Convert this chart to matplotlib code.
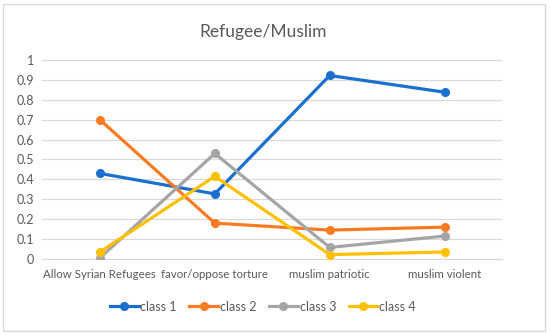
import matplotlib.pyplot as plt
from matplotlib.patches import Rectangle

categories = ["Allow Syrian Refugees", "favor/oppose torture", "muslim patriotic", "muslim violent"]
class1 = [0.43, 0.327, 0.922, 0.838]
class2 = [0.70, 0.18, 0.145, 0.16]
class3 = [0.005, 0.53, 0.058, 0.115]
class4 = [0.035, 0.415, 0.022, 0.035]
series_names = ["class 1", "class 2", "class 3", "class 4"]
colors = ["#1a6fcf", "#fb7b22", "#a5a5a5", "#ffc000"]
yticks = [0, 0.1, 0.2, 0.3, 0.4, 0.5, 0.6, 0.7, 0.8, 0.9, 1]
ytick_labels = ["0", "0.1", "0.2", "0.3", "0.4", "0.5", "0.6", "0.7", "0.8", "0.9", "1"]

plt.rcParams['font.family'] = ['Lato', 'DejaVu Sans']

fig = plt.figure(figsize=(5.5, 3.35), dpi=100)
ax = fig.add_axes([0.077, 0.227, 0.836, 0.594])

# outer chart border
fig.patches.append(Rectangle((0.006, 0.012), 0.985, 0.976, transform=fig.transFigure,
                             fill=False, edgecolor="#d9d9d9", linewidth=1))

x = list(range(len(categories)))
for vals, name, c in zip([class1, class2, class3, class4], series_names, colors):
    ax.plot(x, vals, color=c, linewidth=2.3, marker="o", markersize=5.5, label=name,
            solid_joinstyle="round", zorder=3)

ax.set_xlim(-0.5, len(categories) - 0.5)
ax.set_ylim(0, 1)
ax.set_yticks(yticks)
ax.set_yticklabels(ytick_labels)
ax.set_xticks(x)
ax.set_xticklabels(categories)
ax.grid(axis="y", color="#d9d9d9", linewidth=0.9)
ax.set_axisbelow(True)
for s in ["top", "right", "left"]:
    ax.spines[s].set_visible(False)
ax.spines["bottom"].set_color("#d9d9d9")
ax.tick_params(axis="both", length=0, colors="#595959", labelsize=9)
ax.tick_params(axis="x", pad=7, labelsize=8.3)
ax.tick_params(axis="y", pad=6)

fig.text(0.478, 0.905, "Refugee/Muslim", ha="center", va="center", fontsize=12.5, color="#595959")

ax.legend(loc="center", bbox_to_anchor=(0.478, 0.085), bbox_transform=fig.transFigure, ncol=4,
          frameon=False, fontsize=9, labelcolor="#595959", handlelength=2.3,
          handletextpad=0.15, columnspacing=1.0)

fig.savefig("out.png", dpi=100)
